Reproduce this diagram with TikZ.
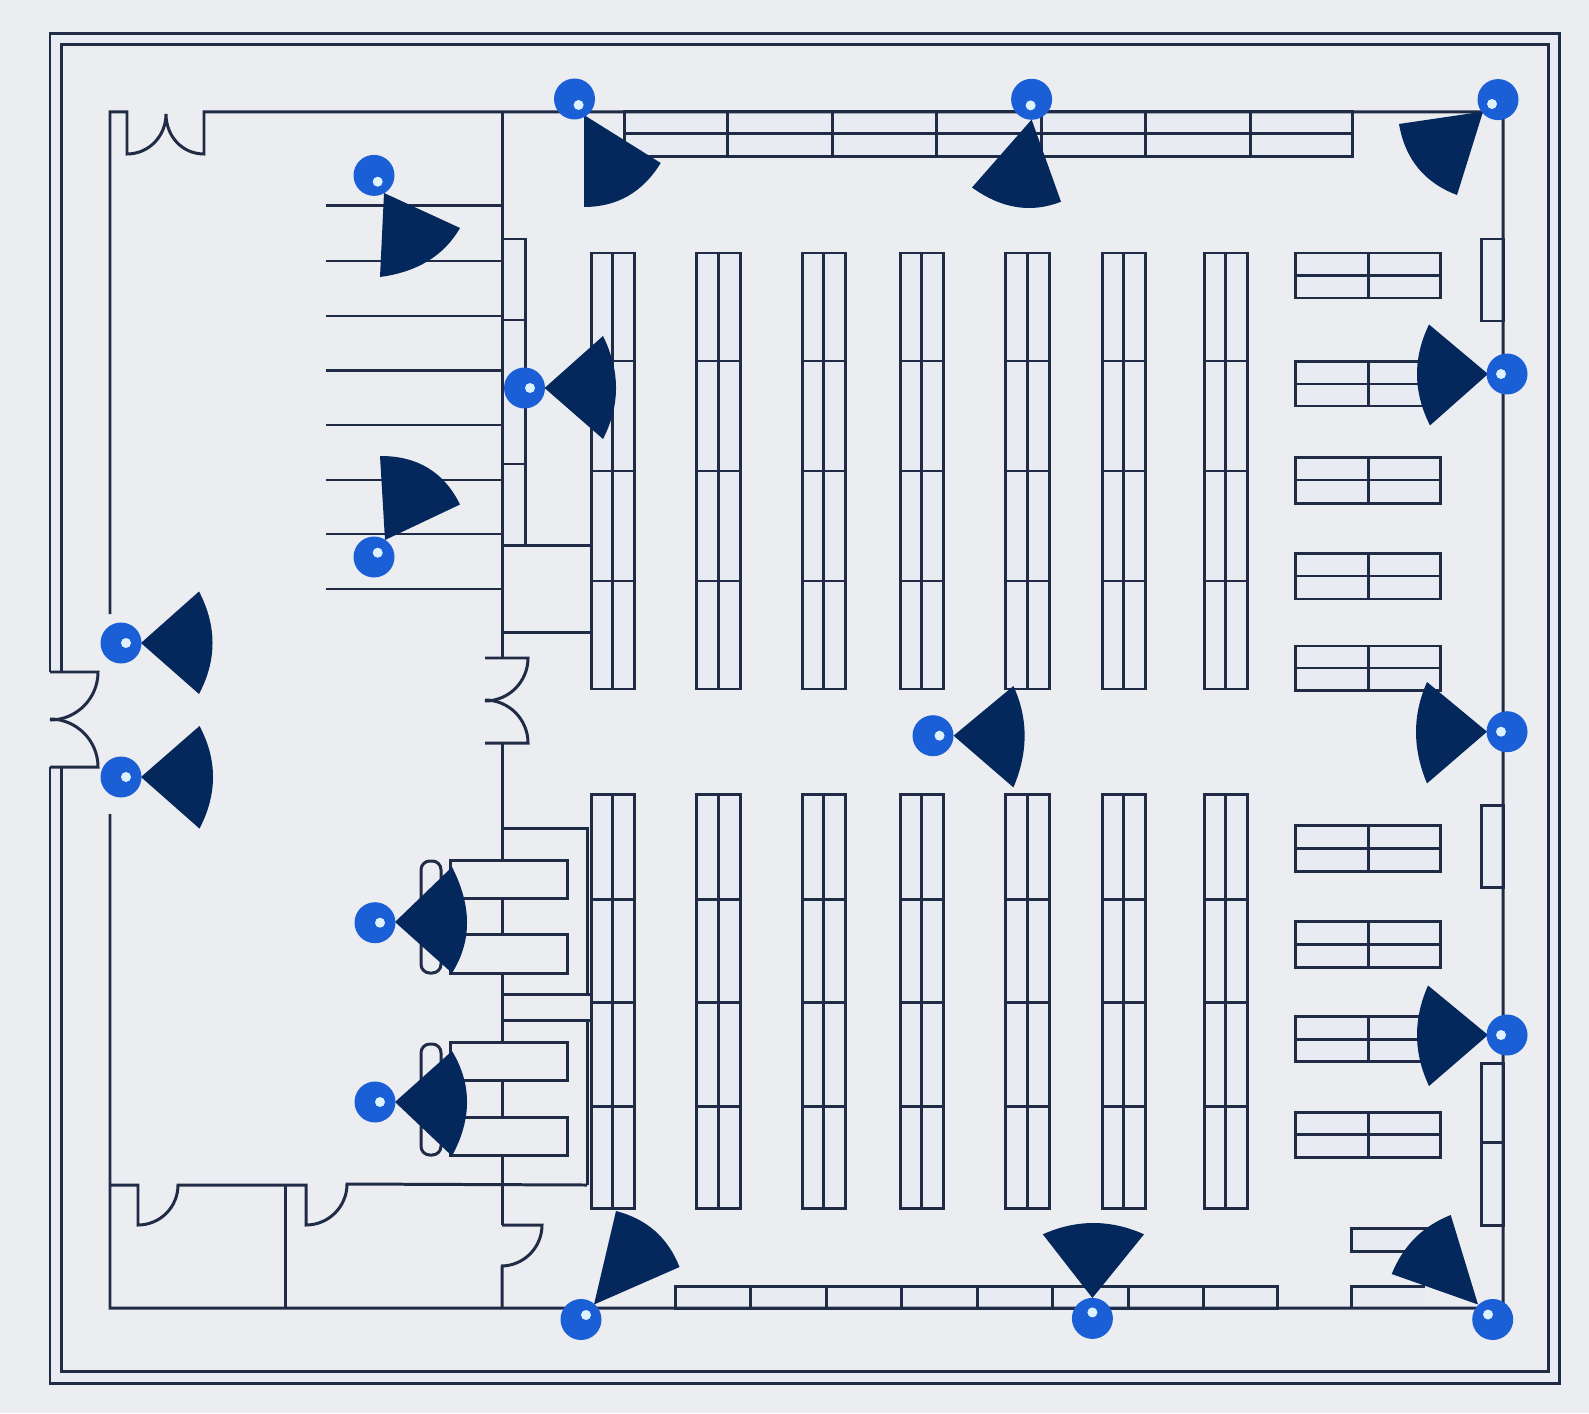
\documentclass[tikz,border=0pt]{standalone}
\usetikzlibrary{calc}
\definecolor{bgc}{HTML}{ECEDF0}
\definecolor{linec}{HTML}{202C46}
\definecolor{shelfc}{HTML}{E8EBF2}
\definecolor{wedgec}{HTML}{04275C}
\definecolor{camc}{HTML}{1B5FD6}
\definecolor{dotc}{HTML}{DDF2FF}
\tikzset{
  wall/.style={draw=linec,line width=0.85pt,line join=miter},
  shelf/.style={draw=linec,line width=0.85pt,fill=shelfc},
  plainbox/.style={draw=linec,line width=0.85pt,fill=bgc},
  sector/.style={fill=wedgec,draw=none},
  cambody/.style={fill=camc,draw=none},
  camdot/.style={fill=dotc,draw=none}
}
% apex, corner 1, corner 2, point on the arc
\newcommand\CamSector[8]{%
  \coordinate (q) at ($2*(#7,#8)-0.5*(#3,#4)-0.5*(#5,#6)$);
  \fill[sector] (#1,#2) -- (#3,#4) .. controls ($(#3,#4)!0.667!(q)$) and ($(#5,#6)!0.667!(q)$) .. (#5,#6) -- cycle;
}
\newcommand\CamBody[4]{%
  \fill[cambody] (#1,#2) circle[radius=20.5];
  \fill[camdot] (#3,#4) circle[radius=5];
}
\begin{document}
\begin{tikzpicture}[x=0.01cm,y=-0.01cm]
\useasboundingbox (0,0) rectangle (1589,1413);
\fill[bgc] (0,0) rectangle (1589,1413);

% outer double wall
\fill[shelfc,even odd rule] (50,33.5) rectangle (1559,1383) (61.6,45) rectangle (1548,1371);
\fill[bgc] (40,672) rectangle (62,767);
\draw[wall] (50,672) -- (50,33.5) -- (1559,33.5) -- (1559,1383) -- (50,1383) -- (50,767);
\draw[wall] (61.6,672) -- (61.6,45) -- (1548,45) -- (1548,1371) -- (61.6,1371) -- (61.6,767);
% entrance door
\draw[wall] (50,672) -- (98,672) arc[start angle=0,end angle=90,radius=48];
\draw[wall] (50,767) -- (98,767) arc[start angle=0,end angle=-90,radius=48];

% partition
\draw[wall] (502,112) -- (502,658);
\draw[wall] (485,658) -- (528,658) arc[start angle=0,end angle=90,radius=43];
\draw[wall] (485,743) -- (528,743) arc[start angle=0,end angle=-90,radius=43];
\draw[wall] (502,743) -- (502,1225);
\draw[wall] (502,1225) -- (542,1225) arc[start angle=0,end angle=90,radius=41] -- (502,1266) -- (502,1308);

% rack lines top left
\foreach \y in {206,261,316,370.5,425,480,534,589}
  \draw[wall] (326,\y) -- (502,\y);

% small column by partition
\draw[shelf] (502,239) rectangle (525,545.5);
\draw[wall] (502,320) -- (525,320) (502,464) -- (525,464);
\draw[wall] (502,545.5) -- (591.5,545.5) (502,632.6) -- (591.5,632.6);

% checkout zones
\draw[wall] (502,828.6) -- (587,828.6) -- (587,994.5) -- (502,994.5);
\draw[wall] (502,1020) -- (587,1020) -- (587,1185);
\draw[wall] (502,994.5) -- (591,994.5) (502,1020) -- (591,1020);
% bottom rooms
\draw[wall] (110,1185) -- (138,1185) -- (138,1225) arc[start angle=90,end angle=0,radius=40] -- (306,1185) -- (306,1225) arc[start angle=90,end angle=0,radius=41] -- (587,1185);
\draw[wall] (285,1185) -- (285,1308);

% counters
\foreach \a/\b in {860/898.6,934.5/973,1042/1080,1117/1155}
  \draw[plainbox] (450,\a) rectangle (567,\b);
\foreach \a/\b in {861/973,1044/1155}
  \draw[plainbox,rounded corners=2.5] (421,\a) rectangle (441,\b);

% long aisle racks
\foreach \l/\m/\r in {591.5/612.5/634,696/718/740,802/823.5/845,900/921.5/943,1005/1027/1049,1102/1123.5/1145,1204/1225.5/1247}{
  \draw[shelf] (\l,253) rectangle (\r,689);
  \draw[wall] (\m,253) -- (\m,689);
  \foreach \y in {361,471,581} \draw[wall] (\l,\y) -- (\r,\y);
  \draw[shelf] (\l,794.5) rectangle (\r,1208);
  \draw[wall] (\m,794.5) -- (\m,1208);
  \foreach \y in {899,1002,1106} \draw[wall] (\l,\y) -- (\r,\y);
}

% right double shelves
\foreach \t/\m/\b in {253/275.5/298,361.6/384/406,457.6/480/503.6,553.6/576/599,646/668/690.6,825/848/871,921/944/967,1016/1039/1061,1112/1134.5/1157}{
  \draw[shelf] (1295,\t) rectangle (1440,\b);
  \draw[wall] (1295,\m) -- (1440,\m) (1368,\t) -- (1368,\b);
}

% right wall shelves
\draw[shelf] (1481,239) rectangle (1503,321);
\draw[shelf] (1481,805) rectangle (1503,887);
\draw[shelf] (1481,1063) rectangle (1503,1225);
\draw[wall] (1481,1142) -- (1503,1142);

% top wall shelves
\draw[shelf] (624.5,112) rectangle (1352.7,157);
\draw[wall] (624.5,134) -- (1352.7,134);
\foreach \x in {727.6,832,936,1041,1145,1250} \draw[wall] (\x,112) -- (\x,157);

% bottom wall shelves
\draw[shelf] (675,1286) rectangle (1277,1308);
\foreach \x in {750,826,901,977,1052,1128,1203} \draw[wall] (\x,1286) -- (\x,1308);
\draw[shelf] (1351,1228) rectangle (1430,1251);
\fill[shelfc] (1351,1286) rectangle (1425,1308);
\draw[wall] (1351,1308) -- (1351,1286) -- (1425,1286);

% building walls
\draw[wall] (110,614) -- (110,112) -- (127,112) -- (127,154)
  .. controls (149,154) and (166,136) .. (166,114)
  .. controls (166,136) and (182,154) .. (204,154) -- (204,112) -- (1503,112) -- (1503,1308) -- (110,1308) -- (110,814);

% cameras
\CamSector{384}{193}{460}{228}{380}{277}{428}{261}
\CamBody{374}{175.4}{377.7}{181.7}
\CamSector{385}{540}{460}{504.5}{380}{456}{428}{468}
\CamBody{374}{557}{377.7}{552.7}
\CamSector{584}{115}{660.7}{163}{584}{207}{628}{196}
\CamBody{574.5}{99}{578.6}{105}
\CamSector{544.6}{388}{603}{336}{603}{439}{616}{388}
\CamBody{524.5}{388}{530}{388}
\CamSector{141}{643}{199}{591.5}{199}{694}{212.5}{643}
\CamBody{121}{643}{126}{643}
\CamSector{141}{777}{199.5}{726}{199.5}{828.6}{213}{777}
\CamBody{121}{777}{126}{777}
\CamSector{395}{922}{452}{867}{452}{973}{467}{922.7}
\CamBody{375}{922.7}{380}{922.7}
\CamSector{395}{1102}{452}{1051}{452}{1156}{467}{1102}
\CamBody{375}{1102}{380}{1102}
\CamSector{594}{1304.5}{616}{1211}{679.5}{1267}{655}{1231}
\CamBody{581}{1319.5}{586}{1315}
\CamSector{1031.6}{119.6}{972}{187.5}{1061}{201.7}{1016.4}{207}
\CamBody{1031.6}{99.3}{1030.6}{105.4}
\CamSector{1483}{111.6}{1399}{124}{1457}{195}{1418}{168}
\CamBody{1498}{99.6}{1492}{104}
\CamSector{1488}{374}{1429}{324.5}{1430}{425.4}{1417}{375}
\CamBody{1507}{374}{1501}{374}
\CamSector{1487}{731.7}{1427}{682}{1427}{783.4}{1416}{732}
\CamBody{1507}{731.7}{1501}{731.7}
\CamSector{1488}{1035}{1428}{985.5}{1429}{1086}{1417}{1036}
\CamBody{1507}{1035}{1501}{1035}
\CamSector{953.6}{735.7}{1013.4}{686}{1013.4}{787.4}{1024.6}{735.7}
\CamBody{933}{735.7}{939.5}{735.7}
\CamSector{1092.4}{1298}{1042.8}{1234.3}{1144}{1234.3}{1093.4}{1223}
\CamBody{1092.4}{1318.4}{1092.4}{1312.4}
\CamSector{1478}{1304.5}{1450.7}{1215}{1391.7}{1274}{1415}{1238}
\CamBody{1492.7}{1319.5}{1488}{1314.5}
\end{tikzpicture}
\end{document}
